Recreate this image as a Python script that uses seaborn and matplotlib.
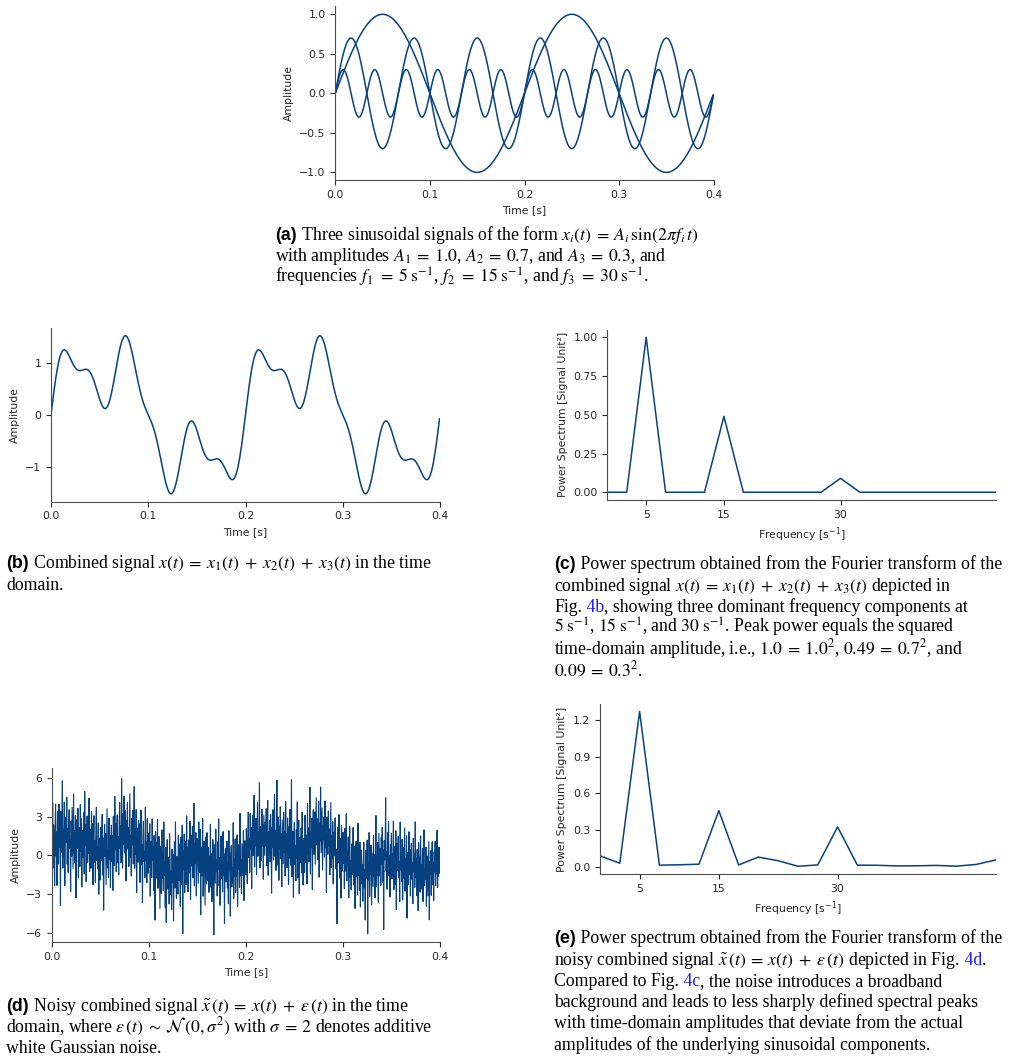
import numpy as np
import pandas as pd
import matplotlib.pyplot as plt
import seaborn as sns

# Signal parameters (from the caption)
amplitudes = [1.0, 0.7, 0.3]
frequencies = [5, 15, 30]  # s^-1
fs = 2000                  # samples per second
duration = 0.4             # s

# Additive noise epsilon(t), one value per sample (800 samples)
noise = [
    4.7, 0.6, 3.9, -1.2, 2.1, 0.3, -2.8, 1.5, 3.4, -0.7, 1.1, -3.1, 2.6, 0.2, -1.6, 3.0, -0.4, 1.8, -5.0, 2.3,
    -0.9, 1.4, 4.6, -2.2, 0.8, -1.3, 2.9, -3.6, 0.5, 1.7, -0.2, 3.3, -1.9, 0.9, -2.5, 1.2, 2.4, -0.6, 0.1, -3.9,
    1.6, -1.1, 2.7, 0.4, -2.0, 3.8, -0.8, 1.0, -1.5, 2.2, -4.2, 0.7, 1.9, -0.3, 2.8, -2.6, 0.0, 1.3, -1.7, 3.1,
    -0.5, 2.0, -3.3, 1.1, 0.6, -1.0, 2.5, -2.3, 4.1, -0.1, 1.5, -2.9, 0.3, 2.2, -1.4, 0.9, -0.7, 3.6, -2.1, 1.2,
    0.2, -1.8, 2.6, -0.4, 1.7, -3.0, 0.8, 2.4, -1.2, 0.5, -2.7, 1.4, 3.2, -0.9, 0.1, -1.5, 2.1, -3.4, 1.0, 0.6,
    -2.2, 1.9, 0.4, -0.6, 3.0, -1.7, 1.2, -4.4, 0.7, 2.3, -0.2, 1.6, -2.4, 0.9, 3.5, -1.1, 0.3, -1.9, 2.7, -0.5,
    1.3, -2.8, 0.6, 2.0, -0.9, 1.1, -3.2, 2.5, 0.0, -1.4, 3.9, -0.3, 1.7, -2.1, 0.8, 2.2, -1.6, 0.4, -2.6, 1.5,
    2.9, -0.7, 1.0, -1.9, 4.6, 0.3, -2.4, 1.8, -0.6, 3.1, -1.3, 0.5, 2.0, -3.5, 1.2, -0.1, 2.6, -1.0, 0.7, -2.3,
    0.9, 3.4, -1.5, 0.2, -2.9, 1.6, -0.4, 2.3, -1.8, 0.6, 4.3, -2.0, 1.1, -0.8, 2.7, -3.7, 0.4, 1.4, -1.2, 2.1,
    -0.3, 1.9, -2.6, 0.8, 3.1, -1.1, 0.5, -4.0, 1.3, 2.4, -0.7, 0.1, -1.9, 3.6, -0.5, 1.0, -2.2, 2.8, 0.3, -1.4,
    1.7, -0.9, 2.5, -3.1, 0.4, 1.2, -1.6, 3.0, -0.2, 0.9, -2.5, 1.8, 0.0, -4.7, 2.2, -0.6, 1.4, -1.3, 3.3, -2.0,
    0.6, 2.1, -1.0, -3.4, 1.5, 0.2, -2.1, 2.9, -0.8, 1.1, -1.7, 3.7, -0.4, 0.7, -2.8, 1.9, -3.9, 0.5, 2.6, -1.2,
    -0.1, 1.3, -2.3, 3.2, 0.8, -1.5, 0.3, -2.7, 2.0, -0.6, 1.6, -3.6, 0.9, 2.5, -1.1, 4.0, -0.3, -2.0, 1.2, 0.4,
    -1.8, 2.7, 0.1, -0.9, 1.9, -3.0, 2.3, -1.4, 0.6, 3.1, -5.4, 1.0, -0.5, 2.2, -2.4, 0.7, 1.5, -1.9, 3.4, -0.2,
    0.9, -2.6, 1.4, 0.2, -1.2, 2.8, -3.3, 0.5, 1.7, -0.7, 2.4, -1.6, 0.0, 4.2, -2.2, 1.1, -0.4, 2.0, -2.9, 0.8,
    1.6, -0.3, -1.8, 3.0, -0.9, 0.4, 2.5, -4.1, 1.2, -1.0, 0.6, 3.5, -2.5, 0.2, 1.8, -0.6, -3.1, 2.2, 0.7, -1.4,
    2.6, -1.1, 0.3, 1.5, -2.0, 0.8, -0.5, 3.3, -1.6, 1.0, -2.7, 0.4, 2.1, -0.8, -5.3, 1.7, 0.1, -1.3, 2.9, -0.4,
    0.5, -2.3, 1.9, -0.2, 3.7, -1.5, 0.7, -3.0, 1.3, 2.4, -0.9, 0.2, -1.9, 2.8, -0.6, 1.1, -4.3, 0.9, 1.6, -1.0,
    -0.7, 2.2, -1.4, 0.6, -2.6, 3.1, 0.0, 1.4, -3.5, 0.8, 2.0, -1.2, 0.3, -0.9, 3.8, -2.1, 1.0, -0.4, 2.5, -1.7,
    1.2, -0.5, 2.7, -2.9, 0.9, -0.1, 1.8, -1.6, 4.1, -0.8, 0.4, -2.3, 1.5, 0.1, -1.1, 2.3, -3.2, 0.6, 1.3, -0.3,
    -1.5, 2.0, 0.3, -2.4, 1.1, 3.0, -0.6, 0.8, -1.9, 2.6, -0.2, 1.4, -3.4, 0.7, 2.2, -1.0, 0.5, 3.6, -2.0, 0.9,
    -0.4, 1.7, -2.7, 0.2, 2.9, -1.3, 0.6, -0.8, 4.4, -2.2, 1.0, 0.3, -1.6, 2.4, -0.5, 1.2, -3.0, 2.0, 0.4, -1.1,
    1.5, -0.3, 2.6, -1.8, 0.1, 3.3, -2.5, 0.9, -0.7, 1.8, -1.4, 2.3, 0.5, -3.8, 1.3, -0.2, 2.7, -1.2, 0.6, 3.9,
    -0.9, 1.1, -2.0, 0.7, 5.0, -1.6, 0.3, 2.1, -2.8, 1.4, -0.4, 2.9, -1.1, 0.8, -3.3, 1.9, 0.0, -1.5, 2.5, -0.6,
    1.0, -2.4, 3.4, -0.3, 0.9, -1.7, 2.2, 0.4, -2.9, 1.6, -0.8, 3.0, -1.3, 0.2, 5.4, -2.1, 0.6, 1.5, -3.6, 0.8,
    2.3, -1.0, 0.5, -2.2, 1.8, -0.4, 4.0, -1.9, 0.7, 2.6, -3.1, 0.1, 1.3, -0.7, 2.0, -1.5, 3.2, -0.2, -2.5, 1.1,
    0.4, -1.6, 2.8, -0.9, 1.2, 0.0, -2.7, 3.5, -0.5, 1.5, -1.2, 0.6, 4.5, -2.3, 0.9, -0.3, 1.9, -3.7, 0.7, 2.4,
    -1.1, 0.3, 2.1, -2.0, 0.8, 3.1, -0.6, 1.4, -1.8, 0.2, 2.7, -3.2, 1.0, -0.4, 3.8, -1.3, 0.5, 2.2, -2.6, 0.9,
    -0.2, 1.6, -1.5, 2.9, -0.7, 0.4, -4.1, 1.8, 0.6, -1.0, 2.4, -0.3, 1.1, -2.4, 0.2, 3.3, -1.7, 0.8, -0.9, 2.0,
    -2.8, 0.7, 1.3, -0.5, 2.5, -1.4, 0.1, -2.1, -5.6, 1.9, -0.8, 0.5, 3.0, -1.9, 1.2, -0.1, -3.4, 2.3, 0.6, -1.2,
    1.8, -0.6, 0.9, -2.5, 2.2, 0.3, -1.1, 3.4, -1.8, 0.5, -0.2, 1.7, -3.0, 0.8, 2.6, -1.3, 0.0, -2.2, 1.4, 0.4,
    -0.9, 2.8, -1.6, 0.6, 1.5, -3.3, 0.2, 2.0, -0.7, 1.1, -2.0, 3.6, -0.4, 0.9, -1.5, 2.3, -2.7, 0.3, 1.8, -0.8,
    0.7, -2.1, 1.2, 2.5, -1.0, 0.4, -3.5, 1.9, -0.3, 0.8, 2.7, -4.6, 1.0, -0.5, 3.2, -1.8, 0.6, -0.1, 2.1, -2.6,
    1.4, 0.1, -1.3, 2.6, -0.6, 1.0, -2.4, 0.3, 3.9, -1.7, 0.7, -0.9, 1.6, -3.1, 2.2, 0.5, -1.2, 0.9, -2.0, 1.7,
    -0.4, 2.4, -1.9, 0.6, -5.6, 1.3, -0.2, 0.8, 4.6, -1.1, 0.4, -2.5, 1.9, -0.7, 2.8, -1.4, 0.2, -3.0, 1.1, 0.6,
    2.0, -1.5, 0.5, -0.8, 3.1, -2.2, 1.2, 0.0, -1.7, 2.5, -3.6, 0.8, 1.6, -0.5, 2.2, -1.0, 0.3, -2.8, 3.4, -0.3,
    0.9, -1.2, 2.1, -2.6, 0.4, 1.5, -0.9, 3.0, -1.9, 0.6, -0.2, 2.4, -4.0, 1.1, 0.2, -1.4, 2.7, -0.6, 1.3, -2.3,
    0.5, 1.8, -1.0, 0.3, -2.9, 2.2, -0.4, 1.0, -1.6, 3.5, -0.8, 0.7, -2.2, 1.4, 0.1, -3.3, 2.0, -0.5, 0.9, -1.8,
    2.6, -0.7, 0.4, -1.5, 1.7, -2.4, 0.8, 3.2, -1.1, 0.2, -0.6, 1.9, -2.7, 0.5, 1.2, -1.9, 0.0, 2.3, -3.8, 0.7,
    -0.3, 1.5, -2.0, 0.9, 2.1, -1.3, 0.4, -2.6, 1.1, -0.5, 1.8, -1.7, 0.6, -0.9, 2.4, -2.1, 0.3, -1.4, 0.8, -1.3,
]

# Power spectra (2.5 s^-1 bins)
freq_bins = [0, 2.5, 5, 7.5, 10, 12.5, 15, 17.5, 20, 22.5, 25,
             27.5, 30, 32.5, 35, 37.5, 40, 42.5, 45, 47.5, 50]
power_clean = [0, 0, 1.0, 0, 0, 0, 0.49, 0, 0, 0, 0,
               0, 0.09, 0, 0, 0, 0, 0, 0, 0, 0]
power_noisy = [0.09, 0.03, 1.27, 0.014, 0.017, 0.022, 0.46, 0.016, 0.08, 0.05, 0.005,
               0.016, 0.327, 0.014, 0.013, 0.008, 0.009, 0.012, 0.006, 0.02, 0.057]

# Time axis and signals
t = np.arange(int(fs * duration)) / fs
components = [a * np.sin(2 * np.pi * f * t) for a, f in zip(amplitudes, frequencies)]
combined = np.sum(components, axis=0)
noisy = combined + np.array(noise)

# Style
sns.set_style('ticks')
plt.rcParams.update({
    'font.size': 7.8,
    'axes.labelsize': 7.8,
    'xtick.labelsize': 7.8,
    'ytick.labelsize': 7.8,
    'axes.edgecolor': '0.3',
    'axes.linewidth': 0.8,
    'xtick.major.width': 0.8,
    'ytick.major.width': 0.8,
    'xtick.major.size': 3.5,
    'ytick.major.size': 3.5,
    'xtick.color': '0.15',
    'ytick.color': '0.15',
})
C = '#08417f'
LW = 1.1

W, H = 1010, 1063
fig = plt.figure(figsize=(W / 100, H / 100), dpi=100)


def add_ax(left, top, right, bottom):
    return fig.add_axes([left / W, 1 - bottom / H, (right - left) / W, (bottom - top) / H])


# (a) three sinusoids
ax_a = add_ax(335.3, 6.4, 713.7, 180.3)
for comp in components:
    sns.lineplot(x=t, y=comp, ax=ax_a, color=C, linewidth=LW)
ax_a.set_xlim(0, 0.4)
ax_a.set_xticks([0, 0.1, 0.2, 0.3, 0.4])
ax_a.set_yticks([-1.0, -0.5, 0.0, 0.5, 1.0])
ax_a.set_xlabel('Time [s]')
ax_a.set_ylabel('Amplitude')

# (b) combined signal
ax_b = add_ax(51, 327.8, 440, 501.7)
sns.lineplot(x=t, y=combined, ax=ax_b, color=C, linewidth=LW)
ax_b.set_xlim(0, 0.4)
ax_b.set_xticks([0, 0.1, 0.2, 0.3, 0.4])
ax_b.set_yticks([-1, 0, 1])
ax_b.set_xlabel('Time [s]')
ax_b.set_ylabel('Amplitude')

# (c) power spectrum, clean
ax_c = add_ax(607.3, 329.6, 996, 500)
sns.lineplot(x=freq_bins, y=power_clean, ax=ax_c, color=C, linewidth=LW)
ax_c.set_xlim(0, 50)
ax_c.set_xticks([5, 15, 30])
ax_c.set_yticks([0, 0.25, 0.5, 0.75, 1.0])
ax_c.set_yticklabels(['0.00', '0.25', '0.50', '0.75', '1.00'])
ax_c.set_xlabel('Frequency [s$^{-1}$]')
ax_c.set_ylabel('Power Spectrum [Signal Unit²]')

# (d) noisy signal
ax_d = add_ax(51.7, 768, 440, 942.3)
sns.lineplot(x=t, y=noisy, ax=ax_d, color=C, linewidth=0.8)
ax_d.set_xlim(0, 0.4)
ax_d.set_ylim(-6.75, 6.8)
ax_d.set_xticks([0, 0.1, 0.2, 0.3, 0.4])
ax_d.set_yticks([-6, -3, 0, 3, 6])
ax_d.set_xlabel('Time [s]')
ax_d.set_ylabel('Amplitude')

# (e) power spectrum, noisy
ax_e = add_ax(600, 703.8, 996, 874)
sns.lineplot(x=freq_bins, y=power_noisy, ax=ax_e, color=C, linewidth=LW)
ax_e.set_xlim(0, 50)
ax_e.set_xticks([5, 15, 30])
ax_e.set_yticks([0, 0.3, 0.6, 0.9, 1.2])
ax_e.set_yticklabels(['0.0', '0.3', '0.6', '0.9', '1.2'])
ax_e.set_xlabel('Frequency [s$^{-1}$]')
ax_e.set_ylabel('Power Spectrum [Signal Unit²]')

sns.despine(fig)

# Captions
FS = 12.8
STY = {
    'b': dict(family='Liberation Sans', weight='bold', size=FS, color='black'),
    't': dict(family='Liberation Serif', size=FS, color='black', math_fontfamily='stix'),
    'l': dict(family='Liberation Serif', size=FS, color='#1a1aff', math_fontfamily='stix'),
}
renderer = fig.canvas.get_renderer()
EQ = r'\:=\:'
PL = r'\;+\;'
UNIT = r'\;\mathrm{s}^{-1}'


def caption(x, y0, lines, dy=21.3):
    for k, line in enumerate(lines):
        if isinstance(line, str):
            line = [(line, 't')]
        xx = x
        for s, kind in line:
            txt = fig.text(xx / W, 1 - (y0 + k * dy) / H, s, ha='left', va='baseline', **STY[kind])
            xx += txt.get_window_extent(renderer).width


xsum = rf'$x(t){EQ}x_1(t){PL}x_2(t){PL}x_3(t)$'
xnoisy = rf'$\tilde{{x}}\,(t){EQ}x(t){PL}\varepsilon\,(t)$'

caption(275, 240, [
    [('(a)', 'b'), (rf' Three sinusoidal signals of the form $x_i(t){EQ}A_i\,\sin(2\pi f_i\, t)$', 't')],
    rf'with amplitudes $A_1{EQ}1.0$, $A_2{EQ}0.7$, and $A_3{EQ}0.3$, and',
    rf'frequencies $f_1\,{EQ}5{UNIT}$, $f_2\,{EQ}15{UNIT}$, and $f_3\,{EQ}30{UNIT}$.',
])
caption(6.5, 568.5, [
    [('(b)', 'b'), (f' Combined signal {xsum} in the time', 't')],
    'domain.',
])
caption(554, 569.3, [
    [('(c)', 'b'), (' Power spectrum obtained from the Fourier transform of the', 't')],
    f'combined signal {xsum} depicted in',
    [('Fig.', 't'), (' 4b', 'l'), (', showing three dominant frequency components at', 't')],
    rf'$5{UNIT}$, $15{UNIT}$, and $30{UNIT}$. Peak power equals the squared',
    rf'time-domain amplitude, i.e., $1.0{EQ}1.0^2$, $0.49{EQ}0.7^2$, and',
    rf'$0.09{EQ}0.3^2$.',
])
caption(6, 1010.7, [
    [('(d)', 'b'), (f' Noisy combined signal {xnoisy} in the time', 't')],
    rf'domain, where $\varepsilon\,(t)\:\sim\:\mathcal{{N}}\,(0,\sigma^2)$ with $\sigma{EQ}2$ denotes additive',
    'white Gaussian noise.',
])
caption(554, 943.3, [
    [('(e)', 'b'), (' Power spectrum obtained from the Fourier transform of the', 't')],
    [(f'noisy combined signal {xnoisy} depicted in Fig.', 't'), (' 4d', 'l'), ('.', 't')],
    [('Compared to Fig.', 't'), (' 4c', 'l'), (', the noise introduces a broadband', 't')],
    'background and leads to less sharply defined spectral peaks',
    'with time-domain amplitudes that deviate from the actual',
    'amplitudes of the underlying sinusoidal components.',
])

fig.savefig('out.png', dpi=100)
